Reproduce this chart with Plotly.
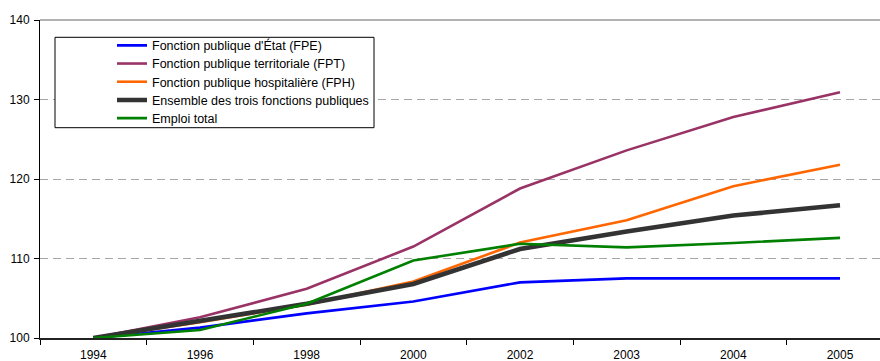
import plotly.graph_objects as go

# Indice 100 en 1994
years = ["1994", "1996", "1998", "2000", "2002", "2003", "2004", "2005"]

fpe = [100, 101.3, 103.1, 104.6, 107.0, 107.5, 107.5, 107.5]
fpt = [100, 102.6, 106.2, 111.5, 118.8, 123.6, 127.8, 130.9]
fph = [100, 102.0, 104.2, 107.1, 112.0, 114.8, 119.1, 121.8]
ensemble = [100, 102.1, 104.3, 106.8, 111.2, 113.4, 115.4, 116.7]
emploi_total = [100, 101.0, 104.3, 109.75, 111.85, 111.4, 111.95, 112.6]

series = [
    ("Fonction publique d'État (FPE)", fpe, "#0000FF", 2.6),
    ("Fonction publique territoriale (FPT)", fpt, "#993366", 2.6),
    ("Fonction publique hospitalière (FPH)", fph, "#FF6600", 2.6),
    ("Ensemble des trois fonctions publiques", ensemble, "#333333", 4.6),
    ("Emploi total", emploi_total, "#008000", 2.6),
]

FONT = "Arial, 'Liberation Sans', sans-serif"

# Plot-area geometry (pixels) used to place the legend frame and rows
W, H = 880, 361
L, R, T, B = 40, 0, 20, 23
pw, ph = W - L - R, H - T - B


def px_x(x):
    return (x - L) / pw


def px_y(y):
    return (H - B - y) / ph


# legend row centres, one legend per series so rows sit evenly
row_y = [45.7, 63.9, 82.1, 100.3, 118.5]
legend_names = ["legend", "legend2", "legend3", "legend4", "legend5"]

fig = go.Figure()
for (name, vals, color, width), lg in zip(series, legend_names):
    fig.add_trace(go.Scatter(
        x=years, y=vals, name=name, mode="lines",
        line=dict(color=color, width=width),
        legend=lg,
    ))

legend_layout = {}
for lg, yc in zip(legend_names, row_y):
    legend_layout[lg] = dict(
        x=px_x(112), y=px_y(yc), xanchor="left", yanchor="middle",
        bgcolor="rgba(0,0,0,0)", borderwidth=0,
        font=dict(family=FONT, size=12.5, color="black"),
    )

fig.update_layout(
    width=W, height=H,
    margin=dict(l=L, r=R, t=T, b=B, autoexpand=False),
    paper_bgcolor="white", plot_bgcolor="white",
    font=dict(family=FONT, size=12, color="black"),
    showlegend=True,
    xaxis=dict(
        type="category", range=[-0.5, 7.375], automargin=False,
        tickson="boundaries", ticks="outside", ticklen=5,
        tickcolor="black", tickwidth=1,
        showline=True, linecolor="#222222", linewidth=2,
        showgrid=False, zeroline=False, ticklabelstandoff=5,
        tickfont=dict(family=FONT, size=12, color="black"),
    ),
    yaxis=dict(
        range=[100, 140], tickvals=[100, 110, 120, 130, 140], automargin=False,
        ticks="outside", ticklen=5, tickcolor="black", tickwidth=1,
        showline=True, linecolor="black", linewidth=1,
        showgrid=True, gridcolor="#A6A6A6", gridwidth=1,
        griddash="8px,5px", zeroline=False, ticklabelstandoff=2,
        tickfont=dict(family=FONT, size=12, color="black"),
    ),
    shapes=[
        # solid frame line along the top of the plot area
        dict(type="line", xref="paper", yref="paper", x0=0, x1=1, y0=1, y1=1,
             line=dict(color="#999999", width=1.5), layer="below"),
        # legend frame
        dict(type="rect", xref="paper", yref="paper",
             x0=px_x(55), x1=px_x(374), y0=px_y(127.7), y1=px_y(37.3),
             line=dict(color="black", width=1), fillcolor="white", layer="above"),
    ],
    **legend_layout,
)

fig.write_html("out.html")
